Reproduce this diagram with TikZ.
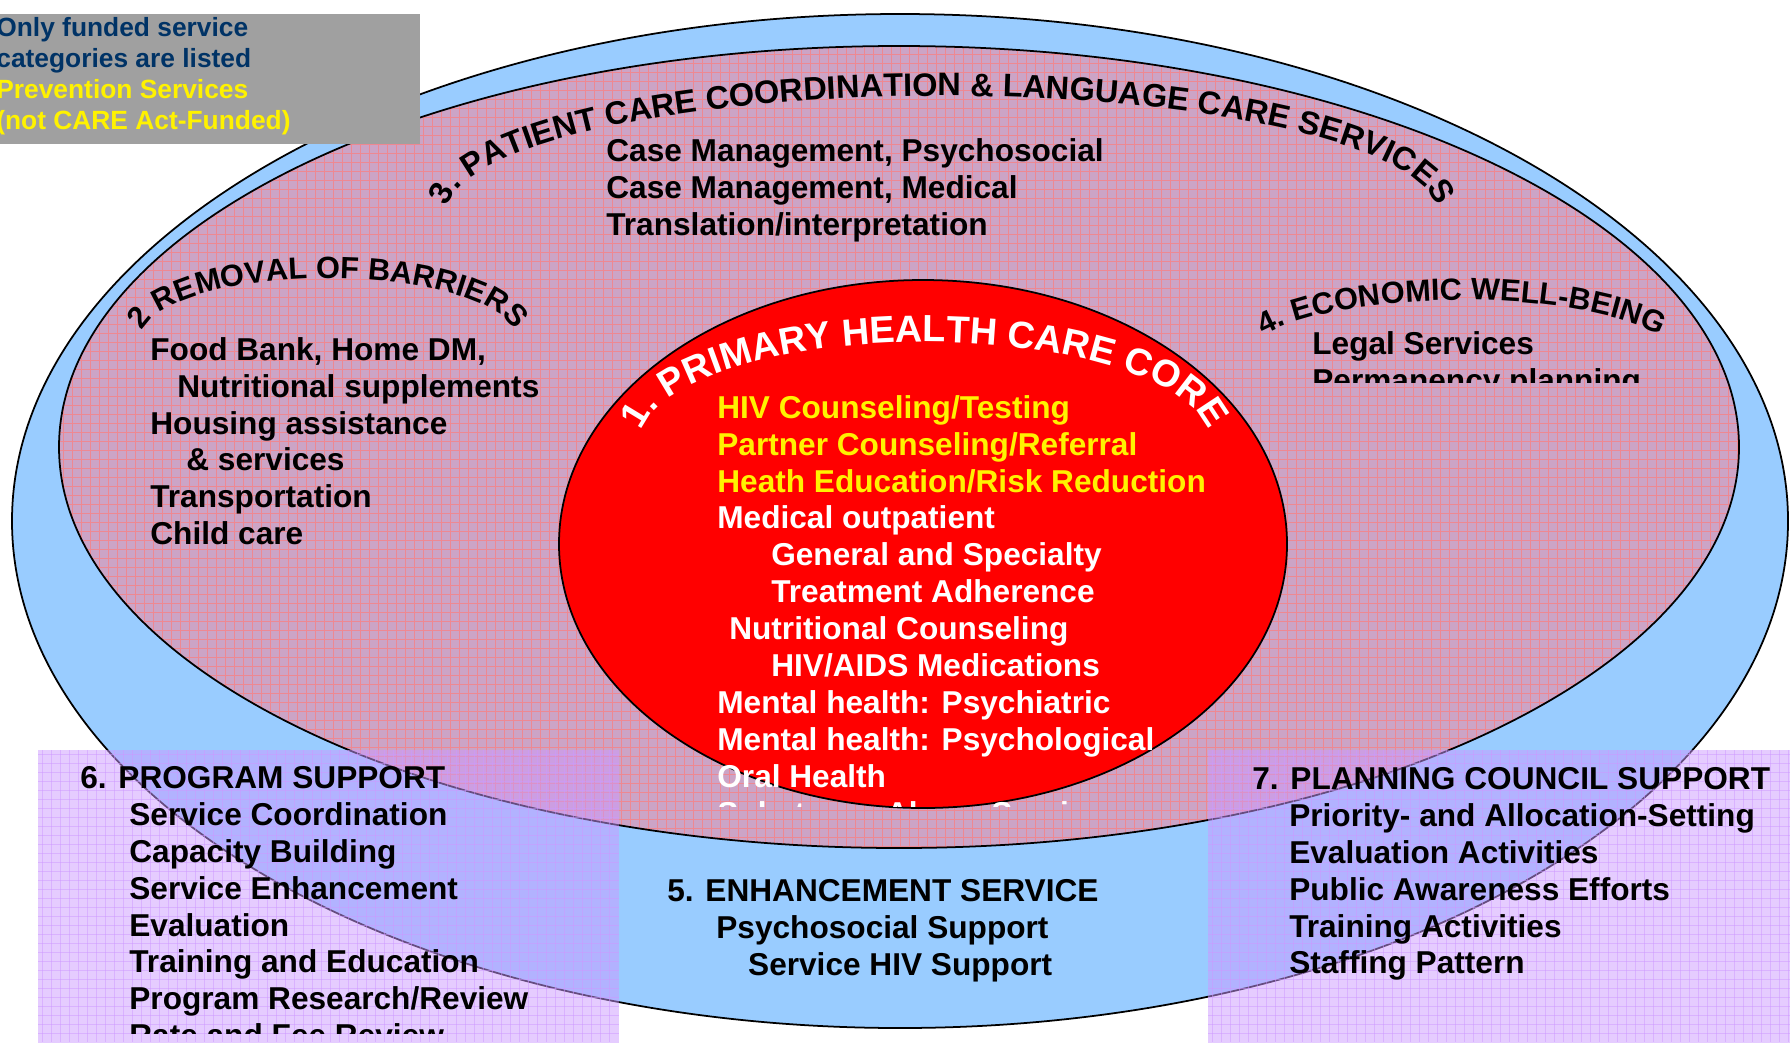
\documentclass[tikz,border=0pt]{standalone}
\usepackage{fontspec}
\setmainfont{Liberation Sans}
\usetikzlibrary{decorations.text}

\definecolor{ringblue}{RGB}{153,204,255}
\definecolor{barrierpink}{RGB}{204,164,198}
\definecolor{gridred}{RGB}{238,136,146}
\definecolor{corered}{RGB}{255,0,0}
\definecolor{supportlilac}{RGB}{204,153,255}
\definecolor{notegray}{RGB}{160,160,160}
\definecolor{notenavy}{RGB}{0,51,102}

\tikzset{
    ring/.style={draw=black, line width=1pt},
    gridline/.style={gridred, line width=0.4pt},
    lilacgrid/.style={supportlilac, opacity=0.5, line width=0.5pt},
    listtext/.style={anchor=north west, inner sep=0pt, align=left,
        font=\bfseries\fontsize{18}{21}\selectfont},
    notetext/.style={anchor=north west, inner sep=0pt, align=left,
        font=\bfseries\fontsize{15}{17.6}\selectfont}
}

\begin{document}
\begin{tikzpicture}[x=0.02cm, y=0.02cm]
        \useasboundingbox (0,0) rectangle (1790,-1042);
        % Ellipsen
        \draw[ring, fill=ringblue] (900,-521) ellipse [x radius=888, y radius=507];
        \fill[barrierpink] (899,-447) ellipse [x radius=840, y radius=401];
        \begin{scope}
            \clip (899,-447) ellipse [x radius=840, y radius=401];
            \foreach \x in {63,72,...,1737}
            {
                \draw[gridline] (\x,-40) -- (\x,-850);
            }
            \foreach \y in {-45,-54,...,-849}
            {
                \draw[gridline] (55,\y) -- (1745,\y);
            }
        \end{scope}
        \draw[ring] (899,-447) ellipse [x radius=840, y radius=401];
        \draw[ring, fill=corered] (923,-544) ellipse [x radius=364, y radius=264];
        % Titel
        \path[decorate, decoration={text along path, text align=center,
            text={|\bfseries\fontsize{18.5}{20}\selectfont|3. PATIENT CARE COORDINATION {\&} LANGUAGE CARE SERVICES}}]
            (942,-214) ++(180:495 and 118) arc[start angle=180, end angle=0, x radius=495, y radius=118];
        \path[decorate, decoration={text along path, text align=center,
            text={|\bfseries\fontsize{17.5}{20}\selectfont|2 REMOVAL OF BARRIERS}}]
            (328,-340) ++(180:188 and 62) arc[start angle=180, end angle=0, x radius=188, y radius=62];
        \path[decorate, decoration={text along path, text align=center,
            text={|\bfseries\fontsize{17.5}{20}\selectfont|4. ECONOMIC WELL-BEING}}]
            (1462,-367) ++(160:225 and 67) arc[start angle=160, end angle=20, x radius=225, y radius=67];
        \path[decorate, decoration={text along path, text align=center,
            text={|\color{white}\bfseries\fontsize{21.5}{24}\selectfont|1. PRIMARY HEALTH CARE CORE}}]
            (925,-442) ++(180:285 and 100) arc[start angle=180, end angle=0, x radius=285, y radius=100];
        % Listen
        \node[listtext] (coordination) at (606,-138)
            {Case Management, Psychosocial\\Case Management, Medical\\Translation/interpretation};
        \node[listtext] (barriers) at (150,-337)
            {Food Bank, Home DM,\\\hspace*{15.4pt}Nutritional supplements\\Housing assistance\\\hspace*{20.5pt}\& services\\Transportation\\Child care};
        \begin{scope}
            \clip (1300,-320) rectangle (1700,-382);
            \node[listtext] (economic) at (1312,-331) {Legal Services\\Permanency planning};
        \end{scope}
        \begin{scope}
            \clip (700,-385) rectangle (1250,-806);
            \node[listtext, text=white] (core) at (717,-395)
                {\textcolor{yellow}{HIV Counseling/Testing}\\
                 \textcolor{yellow}{Partner Counseling/Referral}\\
                 \textcolor{yellow}{Heath Education/Risk Reduction}\\
                 Medical outpatient\\
                 \hspace*{30.7pt}General and Specialty\\
                 \hspace*{30.7pt}Treatment Adherence\\
                 \hspace*{6.8pt}Nutritional Counseling\\
                 \hspace*{30.7pt}HIV/AIDS Medications\\
                 Mental health: Psychiatric\\
                 Mental health: Psychological\\
                 Oral Health\\
                 Substance Abuse Services};
        \end{scope}
        % Hinweis
        \fill[notegray] (0,-14) rectangle (420,-144);
        \node[notetext, text=notenavy] (note) at (-4,-17)
            {Only funded service\\categories are listed\\
             \textcolor{yellow}{Prevention Services}\\
             \textcolor{yellow}{(not CARE Act-Funded)}};
        % Kaesten unten
        \fill[supportlilac, opacity=0.5] (38,-750) rectangle (619,-1042);
        \fill[supportlilac, opacity=0.5] (1208,-750) rectangle (1790,-1042);
        \foreach \x in {42,51,...,615}
        {
            \draw[lilacgrid] (\x,-750) -- (\x,-1042);
        }
        \foreach \x in {1212,1221,...,1790}
        {
            \draw[lilacgrid] (\x,-750) -- (\x,-1042);
        }
        \foreach \y in {-754,-763,...,-1042}
        {
            \draw[lilacgrid] (38,\y) -- (619,\y);
            \draw[lilacgrid] (1208,\y) -- (1790,\y);
        }
        \node[listtext] (enhancement) at (667,-879)
            {5. ENHANCEMENT SERVICE\\\hspace*{27.9pt}Psychosocial Support\\\hspace*{46pt}Service HIV Support};
        \begin{scope}
            \clip (40,-752) rectangle (619,-1033);
            \node[listtext] (program) at (80,-766)
                {6. PROGRAM SUPPORT\\
                 \hspace*{27.9pt}Service Coordination\\
                 \hspace*{27.9pt}Capacity Building\\
                 \hspace*{27.9pt}Service Enhancement\\
                 \hspace*{27.9pt}Evaluation\\
                 \hspace*{27.9pt}Training and Education\\
                 \hspace*{27.9pt}Program Research/Review\\
                 \hspace*{27.9pt}Rate and Fee Review};
        \end{scope}
        \node[listtext] (planning) at (1252,-767)
            {7. PLANNING COUNCIL SUPPORT\\
             \hspace*{21pt}Priority- and Allocation-Setting\\
             \hspace*{21pt}Evaluation Activities\\
             \hspace*{21pt}Public Awareness Efforts\\
             \hspace*{21pt}Training Activities\\
             \hspace*{21pt}Staffing Pattern};
\end{tikzpicture}
\end{document}
